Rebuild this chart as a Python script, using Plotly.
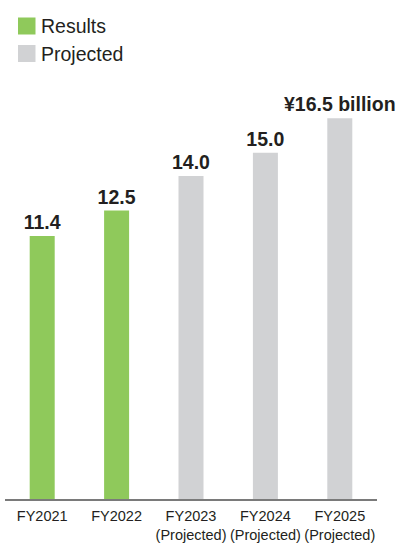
import plotly.graph_objects as go

categories = ["FY2021", "FY2022", "FY2023", "FY2024", "FY2025"]
tick_labels = ["FY2021", "FY2022", "FY2023<br>(Projected)", "FY2024<br>(Projected)", "FY2025<br>(Projected)"]
results_cats = ["FY2021", "FY2022"]
results_vals = [11.4, 12.5]
results_text = ["11.4", "12.5"]
proj_cats = ["FY2023", "FY2024", "FY2025"]
proj_vals = [14.0, 15.0, 16.5]
proj_text = ["14.0", "15.0", "¥16.5 billion"]

GREEN = "#8fc95b"
GRAY = "#d1d2d4"
TXT = "#231f20"
FONT = "Liberation Sans"

W, H = 396, 545
L, R, T, B = 5, 19, 80, 46

fig = go.Figure()
fig.add_bar(x=results_cats, y=results_vals, text=results_text, name="Results",
            marker=dict(color=GREEN, line=dict(width=0)),
            textposition="outside", cliponaxis=False, constraintext="none",
            textfont=dict(size=19.5, color=TXT, family=FONT, weight="bold"))
fig.add_bar(x=proj_cats, y=proj_vals, text=proj_text, name="Projected",
            marker=dict(color=GRAY, line=dict(width=0)),
            textposition="outside", cliponaxis=False, constraintext="none",
            textfont=dict(size=19.5, color=TXT, family=FONT, weight="bold"))

plot_h = H - T - B
ymax = plot_h / 23.08

fig.update_layout(
    width=W, height=H,
    margin=dict(l=L, r=R, t=T, b=B, autoexpand=False),
    paper_bgcolor="white", plot_bgcolor="white",
    barmode="overlay", bargap=0.664,
    showlegend=False,
    font=dict(family=FONT, color=TXT),
)
fig.update_xaxes(categoryorder="array", categoryarray=categories,
                 tickmode="array", tickvals=categories, ticktext=tick_labels,
                 showline=True, linecolor="#7a7a7a", linewidth=1.5,
                 ticks="", showgrid=False, zeroline=False,
                 tickangle=0, automargin=False, ticklabelstandoff=3,
                 tickfont=dict(size=14.5, color=TXT, family=FONT))
fig.update_yaxes(range=[0, ymax], visible=False, showgrid=False, zeroline=False)

# legend drawn manually
def px_x(px):
    return (px - L) / (W - L - R)

def px_y(py):
    return (H - B - py) / plot_h

legend_items = [("Results", GREEN, 18, 26), ("Projected", GRAY, 18, 53.5)]
for name, col, x0, yc in legend_items:
    fig.add_shape(type="rect", xref="paper", yref="paper",
                  x0=px_x(x0), x1=px_x(x0 + 17.5), y0=px_y(yc + 8.5), y1=px_y(yc - 8.5),
                  fillcolor=col, line=dict(width=0), layer="above")
    fig.add_annotation(xref="paper", yref="paper", x=px_x(x0 + 21), y=px_y(yc),
                       text=name, showarrow=False, xanchor="left", yanchor="middle",
                       font=dict(size=19.5, color=TXT, family=FONT))

fig.write_html("out.html", config={"displayModeBar": False},
               post_script="document.body.style.margin='0';document.body.style.overflow='hidden';")
